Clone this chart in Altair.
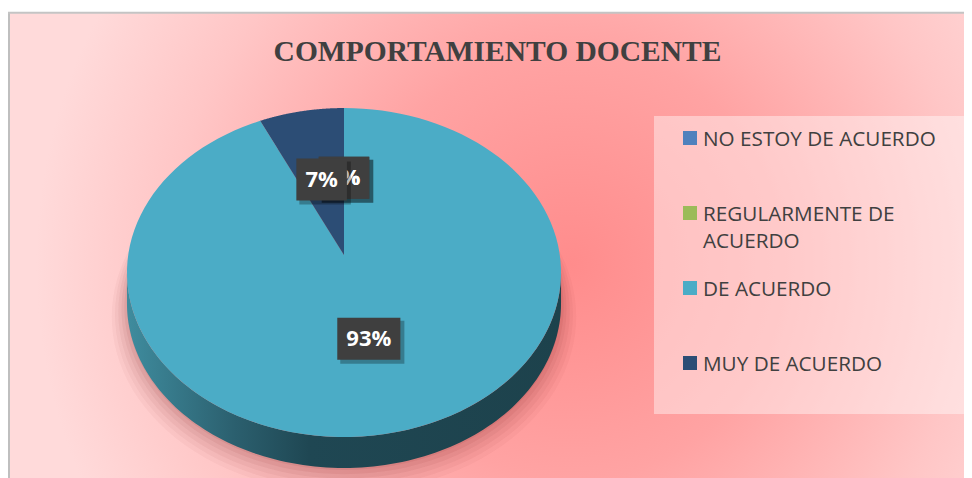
import altair as alt
import pandas as pd

# ---------------- data ----------------
title_text = "COMPORTAMIENTO DOCENTE"
categories = ["NO ESTOY DE ACUERDO", "REGULARMENTE DE ACUERDO", "DE ACUERDO", "MUY DE ACUERDO"]
values = [0, 0, 93, 7]
colors = ["#4F81BD", "#9BBB59", "#4BACC6", "#2C4D75"]

# ---------------- layout / style ----------------
W, H = 956, 470          # plot area (page origin at 8,8)
X0, Y0 = 8, 8
CX, CY = 344, 255        # pie centre (page px)
A, B, K = 215.8, 162.6, 0.1064   # perspective ellipse parameters
D = 31                   # 3D depth
N = 120                  # arc resolution
F = 0.5                  # label radius fraction
LFS = 22                 # data label font size

xs = alt.Scale(domain=[X0, X0 + W], nice=False, zero=False)
ys = alt.Scale(domain=[Y0, Y0 + H], nice=False, zero=False, reverse=True)


def X(f):
    return alt.X(f"{f}:Q", scale=xs, axis=None)


def Y(f):
    return alt.Y(f"{f}:Q", scale=ys, axis=None)


def PX(t, r="1", s="1"):
    return f"{CX} + {s}*{A}*({r})*sin({t})/(1+{K}*({r})*cos({t}))"


def PY(t, r="1", s="1"):
    return f"{CY} - {s}*{B}*({r})*cos({t})/(1+{K}*({r})*cos({t}))"


df = pd.DataFrame({"cat": categories, "value": values, "idx": list(range(len(categories)))})
dummy = pd.DataFrame({"d": [0]})
color_scale = alt.Scale(domain=categories, range=colors)

base = (
    alt.Chart(df)
    .transform_window(cum="sum(value)", sort=[alt.SortField("idx")], frame=[None, 0])
    .transform_joinaggregate(total="sum(value)")
    .transform_calculate(a0="2*PI*(datum.cum-datum.value)/datum.total")
    .transform_calculate(a1="2*PI*datum.cum/datum.total")
)

# ---------------- background ----------------
bg_grad = alt.RadialGradient(
    gradient="radial",
    stops=[
        alt.GradientStop(color="#ff8c8c", offset=0),
        alt.GradientStop(color="#ffa3a3", offset=0.4),
        alt.GradientStop(color="#ffc6c6", offset=0.75),
        alt.GradientStop(color="#ffdada", offset=1),
    ],
    x1=0.57, y1=0.52, r1=0, x2=0.57, y2=0.52, r2=0.5,
)
background = alt.Chart(dummy).mark_rect(fill=bg_grad).encode(
    x=alt.value(2), x2=alt.value(W + 18), y=alt.value(-300), y2=alt.value(H + 300)
)
white_top = alt.Chart(dummy).mark_rect(fill="white").encode(
    x=alt.value(-10), x2=alt.value(W + 20), y=alt.value(-10), y2=alt.value(4)
)
border_left = alt.Chart(dummy).mark_rule(color="#bfbfbf", strokeWidth=2).encode(
    x=alt.value(1), y=alt.value(4), y2=alt.value(H + 10)
)
border_top = alt.Chart(dummy).mark_rule(color="#c4c4c4", strokeWidth=2).encode(
    x=alt.value(0), x2=alt.value(W + 20), y=alt.value(4.7)
)

# legend panel
legend_box = alt.Chart(dummy).mark_rect(fill="white", opacity=0.42).encode(
    x=alt.value(646), x2=alt.value(957), y=alt.value(108), y2=alt.value(406)
)

# ---------------- pie shadow ----------------
shadow_layers = []
for s, dy, op in [(1.0, D + 2, 0.08), (1.012, D + 4, 0.07), (1.025, D + 6, 0.06),
                  (1.04, D + 8, 0.05), (1.055, D + 10, 0.045), (1.07, D + 12, 0.035)]:
    sh = (
        alt.Chart(alt.sequence(0, N + 1, as_="k"))
        .transform_calculate(t=f"2*PI*datum.k/{N}")
        .transform_calculate(px=PX("datum.t", s=s), py=PY("datum.t", s=s) + f" + {dy}")
        .mark_line(filled=True, strokeWidth=0, fill="#7a1f1f", fillOpacity=op)
        .encode(x=X("px"), y=Y("py"), order="k:Q")
    )
    shadow_layers.append(sh)

# ---------------- side wall ----------------
wall_grad = alt.LinearGradient(
    gradient="linear",
    stops=[
        alt.GradientStop(color="#3f8c9e", offset=0),
        alt.GradientStop(color="#2b5f6e", offset=0.25),
        alt.GradientStop(color="#1f4753", offset=0.42),
        alt.GradientStop(color="#1d424c", offset=1),
    ],
    x1=0, x2=1, y1=0, y2=0,
)
wall = (
    base.transform_calculate(w0=f"max(datum.a0, acos(-{K}))")
    .transform_calculate(w1=f"min(datum.a1, 2*PI - acos(-{K}))")
    .transform_filter("datum.w1 > datum.w0")
    .transform_calculate(pts=f"sequence(0, {2 * N + 2})")
    .transform_flatten(["pts"])
    .transform_calculate(
        t=f"datum.pts <= {N} ? datum.w0+(datum.w1-datum.w0)*datum.pts/{N} : datum.w1-(datum.w1-datum.w0)*(datum.pts-{N + 1})/{N}"
    )
    .transform_calculate(off=f"datum.pts <= {N} ? 0 : {D}")
    .transform_calculate(px=PX("datum.t"), py=PY("datum.t") + " + datum.off")
    .mark_line(filled=True, strokeWidth=0, fill=wall_grad)
    .encode(x=X("px"), y=Y("py"), detail="cat:N", order="pts:Q")
)

# ---------------- top faces ----------------
faces = (
    base.transform_calculate(pts=f"sequence(-1, {N + 1})")
    .transform_flatten(["pts"])
    .transform_calculate(t=f"datum.a0+(datum.a1-datum.a0)*max(datum.pts,0)/{N}")
    .transform_calculate(
        px=f"datum.pts < 0 ? {CX} : " + PX("datum.t"),
        py=f"datum.pts < 0 ? {CY} : " + PY("datum.t"),
    )
    .mark_line(filled=True, strokeWidth=0)
    .encode(
        x=X("px"), y=Y("py"),
        color=alt.Color("cat:N", scale=color_scale, legend=None),
        order="pts:Q",
    )
)

# ---------------- data labels ----------------
lab_base = (
    base.transform_calculate(mid="(datum.a0+datum.a1)/2")
    .transform_calculate(lbl="format(datum.value/datum.total, '.0%')")
    .transform_calculate(lx=PX("datum.mid", r=F), ly=PY("datum.mid", r=F))
    .transform_calculate(bw=f"18 + {LFS}*(0.572*(length(datum.lbl)-1) + 0.907)")
    .transform_calculate(
        bx0="datum.lx - datum.bw/2", bx1="datum.lx + datum.bw/2",
        by0="datum.ly - 21", by1="datum.ly + 21",
        sx0="datum.lx - datum.bw/2 + 3", sx1="datum.lx + datum.bw/2 + 4",
        sy0="datum.ly - 18", sy1="datum.ly + 25",
    )
)


def label_group(filt):
    b = lab_base.transform_filter(filt)
    shadow = b.mark_rect(fill="black", opacity=0.28).encode(
        x=X("sx0"), x2="sx1:Q", y=Y("sy0"), y2="sy1:Q"
    )
    box = b.mark_rect(fill="#3f3f3f").encode(x=X("bx0"), x2="bx1:Q", y=Y("by0"), y2="by1:Q")
    txt = b.mark_text(
        font="Open Sans", fontSize=LFS, fontWeight="bold", color="white", baseline="middle"
    ).encode(x=X("lx"), y=Y("ly"), text="lbl:N")
    return [shadow, box, txt]


labels_zero = label_group("datum.value == 0")
labels_nonzero = label_group("datum.value != 0")

# ---------------- legend ----------------
leg = (
    alt.Chart(df)
    .transform_calculate(gy="138 + 75*datum.idx", sx="690", tx="703")
    .transform_calculate(cut="lastindexof(datum.cat, ' ')")
    .transform_calculate(
        lab="length(datum.cat) > 20 ? substring(datum.cat, 0, datum.cut) + '\\n' + substring(datum.cat, datum.cut+1) : datum.cat"
    )
)
leg_sq = leg.mark_square(size=196, opacity=1, filled=True).encode(
    x=X("sx"), y=Y("gy"), color=alt.Color("cat:N", scale=color_scale, legend=None)
)
leg_txt = leg.mark_text(
    font="Open Sans", fontSize=20.7, color="#404040", align="left", baseline="alphabetic",
    lineBreak="\n", lineHeight=27, dy=7.5,
).encode(x=X("tx"), y=Y("gy"), text="lab:N")

# ---------------- title ----------------
title = alt.Chart(pd.DataFrame({"t": [title_text]})).mark_text(
    font="Liberation Serif", fontSize=29.5, fontWeight="bold", color="#404040",
    baseline="alphabetic", align="center",
).encode(x=alt.value(497.5 - X0), y=alt.value(61 - Y0), text="t:N")

chart = alt.layer(
    background, white_top, legend_box, *shadow_layers, wall, faces,
    *labels_zero, *labels_nonzero, leg_sq, leg_txt, title, border_left, border_top,
).properties(
    width=W, height=H, padding=0, autosize=alt.AutoSizeParams(type="none"),
    background="white",
).configure_view(stroke=None)

chart.save("out.html", embed_options={"renderer": "svg", "actions": False})
